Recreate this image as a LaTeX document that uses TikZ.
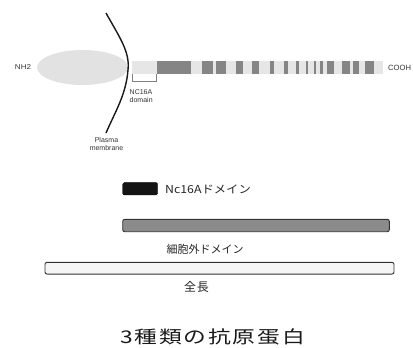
\documentclass[tikz,border=0pt]{standalone}
\usepackage{fontspec}
\setmainfont{Liberation Sans}
\newfontfamily\jp{Noto Sans CJK JP}
\newfontfamily\jptitle[LetterSpace=8]{Noto Sans CJK JP}
\newfontfamily\jpwide[LetterSpace=8]{Noto Sans CJK JP}
\usetikzlibrary{shapes.geometric}
\definecolor{lightbar}{HTML}{E6E6E6}
\definecolor{darkseg}{HTML}{858585}
\definecolor{headgray}{HTML}{E2E2E2}
\definecolor{outl}{HTML}{333333}
\tikzset{
  small/.style={font=\fontsize{7}{8}\selectfont, text=black!80, inner sep=0},
  stripe/.style={fill=darkseg, draw=none, minimum height=12.6pt, inner sep=0, anchor=west},
  jplabel/.style={font=\jp\fontsize{11}{13}\selectfont, text=black!85, inner sep=0},
  pbar/.style={rounded corners=2pt, draw=outl, line width=0.9pt, inner sep=0}
}
\begin{document}
\begin{tikzpicture}[x=1pt, y=-1pt]
\useasboundingbox (0,0) rectangle (413,348);
% head
\node[ellipse, fill=headgray, minimum width=91pt, minimum height=35pt, inner sep=0] (head) at (82.5,67.5) {};
\node[small] (nh2) at (23,67.5) {\scalebox{1.15}[1]{NH2}};
% bar
\node[fill=lightbar, minimum width=251pt, minimum height=12.6pt, inner sep=0, anchor=west] (bar) at (132,67.5) {};
\node[stripe, minimum width=34pt] (nc16seg) at (157,67.5) {};
\foreach \a/\b [count=\i] in {201.7/212.5, 216/226, 236/243, 252/259, 269.5/274, 284.2/287.6, 296/298.5, 305.5/308, 313.3/316, 320/322.7, 327/333.3, 341.7/350, 353/359, 365/373.3}
  \node[stripe, minimum width={(\b-\a)*1pt}] (s\i) at (\a,67.5) {};
\node[small, font=\fontsize{7.6}{9}\selectfont, anchor=west] (cooh) at (388,67.5) {COOH};
% membrane
\draw[line width=1.4pt, black!90] (106,13) .. controls (120,38) and (130,52) .. (128,70) .. controls (126,95) and (115,112) .. (106,133);
% bracket
\coordinate (bl) at (132,81);
\coordinate (br) at (156,81);
\draw[gray, line width=0.6pt] (bar.south west) -- (bl) -- (br) -- (br |- bar.south);
\node[small, anchor=west, align=left] (nc16lab) at (129.5,96.5) {NC16A\\domain};
\node[small, align=center] (pm) at (106.5,144) {Plasma\\membrane};
% antigens
\node[fill=black!92, draw=black, rounded corners=1.5pt, minimum width=35pt, minimum height=12.3pt, inner sep=0] (nc) at (140.2,188.8) {};
\node[jplabel, anchor=west] (nclab) at (165,189) {\scalebox{1.12}[1]{Nc16Aドメイン}};
\node[pbar, fill=darkseg!95, minimum width=266.6pt, minimum height=12.4pt] (ext) at (256,225.5) {};
\node[jplabel] (extlab) at (205,249) {細胞外ドメイン};
\node[pbar, fill=black!4, minimum width=349pt, minimum height=11.7pt] (full) at (219.5,268.2) {};
\node[jplabel, font=\jpwide\fontsize{12}{13}\selectfont] (fulllab) at (196.5,286.7) {全長};
\node[font=\jptitle\fontsize{17.5}{20}\selectfont, text=black!90, inner sep=0] (title) at (212.5,337) {\scalebox{1.3}[1]{3種類の抗原蛋白}};
\end{tikzpicture}
\end{document}
